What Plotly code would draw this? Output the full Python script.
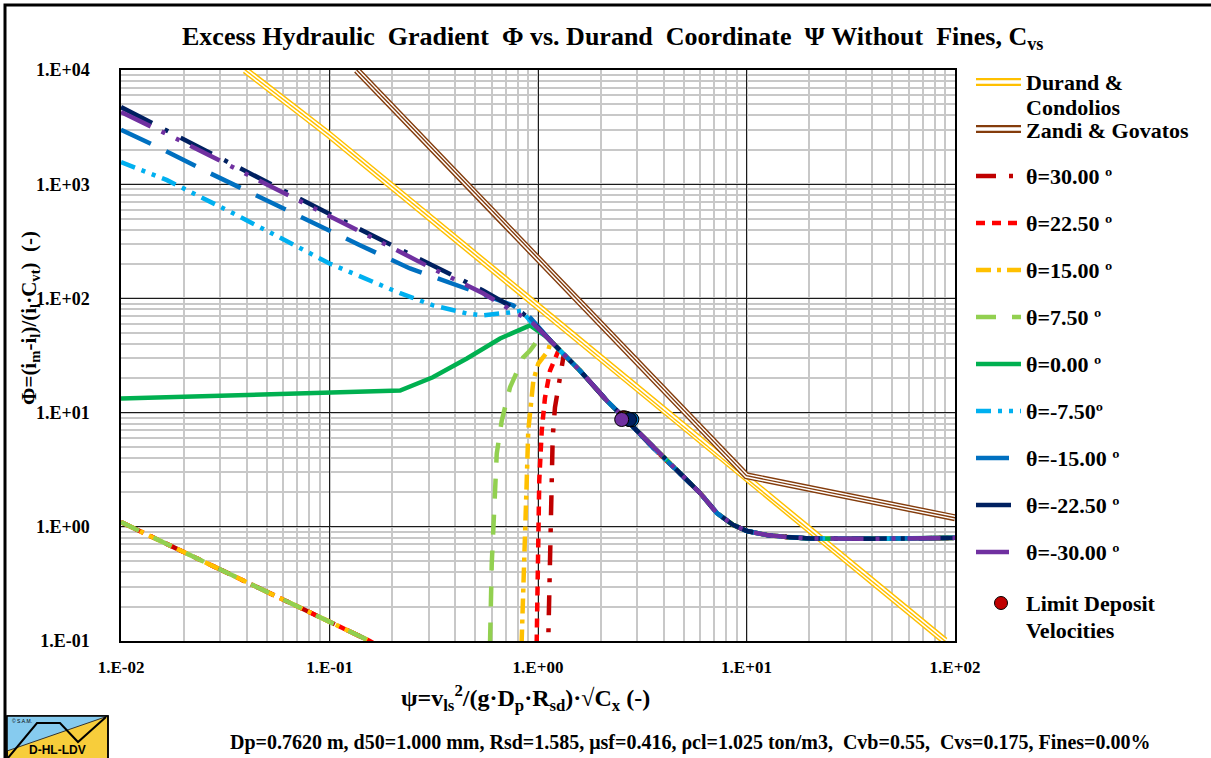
import plotly.graph_objects as go

# ---------------- DATA ----------------
# Durand & Condolios
DC_PSI = [0.0394, 0.1, 1.0, 10.0, 89.5]
DC_PHI = [10000, 2690, 85, 2.65, 0.1]
# Zandi & Govatos
ZG_PSI = [0.135, 0.455, 1.0, 10.0, 100.0]
ZG_PHI = [10000, 1000, 224, 2.8, 1.2]

# common (heterogeneous / homogeneous) branch shared by all angles
MAIN_PSI = [1.10, 1.18, 1.59, 2.14, 2.67, 3.56, 4.80, 5.98, 7.21, 8.61, 10.05, 12.5, 15.6, 20.2, 37.8, 65.7, 100.0]
MAIN_PHI = [46.0, 40.3, 23.3, 12.7, 8.5, 4.93, 2.92, 1.98, 1.32, 1.04, 0.918, 0.848, 0.814, 0.79, 0.785, 0.79, 0.80]

# lower-left branch shared by positive angles
LOW_PSI = [0.01, 0.156, 0.30]
LOW_PHI = [1.10, 0.10, 0.05]

T30_PSI = [1.10, 1.12, 1.133, 1.155, 1.176, 1.206, 1.275, 1.299, 1.33]
T30_PHI = [0.03, 0.10, 0.336, 2.54, 6.04, 11.1, 22.0, 24.8, 32.3]
T22_PSI = [0.985, 0.986, 0.992, 1.014, 1.042, 1.080, 1.142, 1.229, 1.26]
T22_PHI = [0.03, 0.10, 0.336, 2.54, 6.95, 13.5, 23.3, 31.6, 35.7]
T15_PSI = [0.83, 0.835, 0.849, 0.883, 0.898, 0.950, 1.003, 1.12, 1.15]
T15_PHI = [0.03, 0.10, 0.336, 2.54, 6.95, 19.1, 26.9, 35.0, 42.3]
T07_PSI = [0.585, 0.589, 0.600, 0.634, 0.670, 0.734, 0.848, 0.916, 1.05]
T07_PHI = [0.03, 0.10, 0.473, 4.37, 8.5, 16.6, 30.3, 35.0, 49.0]
T00_PSI = [0.01, 0.1, 0.218, 0.313, 0.456, 0.658, 0.916]
T00_PHI = [13.3, 14.8, 15.6, 20.4, 29.8, 44.6, 58.0]
TM07_PSI = [0.01, 0.01662, 0.0345, 0.0995, 0.218, 0.3136, 0.4566, 0.5447, 0.734, 0.834, 0.92]
TM07_PHI = [1560, 1085, 557, 203, 111, 86.9, 73.8, 71.0, 75.4, 78.0, 63.0]
TM15_PSI = [0.01, 0.01538, 0.02673, 0.04642, 0.0806, 0.140, 0.2432, 0.432, 0.759, 0.916]
TM15_PHI = [3000, 2070, 1248, 769, 464, 292, 183, 125, 86.9, 68.0]
TM22_PSI = [0.01, 0.01377, 0.02887, 0.0598, 0.1254, 0.263, 0.5447, 0.84, 0.916]
TM22_PHI = [4733, 3497, 1726, 885, 445, 229, 117.5, 74.5, 66.0]
TM30_PSI = [0.01, 0.01234, 0.01776, 0.03224, 0.056, 0.1161, 0.2107, 0.3034, 0.5447, 0.776, 0.916]
TM30_PHI = [4285, 3573, 2585, 1496, 904, 455, 264, 187, 111, 75.4, 64.0]

SERIES_NAMES = ["θ=30.00 º", "θ=22.50 º", "θ=15.00 º", "θ=7.50 º", "θ=0.00 º",
                "θ=-7.50º", "θ=-15.00 º", "θ=-22.50 º", "θ=-30.00 º"]

# limit deposit velocities (one per angle)
LDV_PSI = [2.55, 2.60, 2.65, 2.70, 2.75, 2.80, 2.82, 2.75, 2.52]
LDV_PHI = [9.0, 9.0, 8.9, 8.8, 8.7, 8.7, 8.7, 8.7, 8.7]

X_TICKS = [0.01, 0.1, 1, 10, 100]
X_TICKTEXT = ["1.E-02", "1.E-01", "1.E+00", "1.E+01", "1.E+02"]
Y_TICKS = [0.1, 1, 10, 100, 1000, 10000]
Y_TICKTEXT = ["1.E-01", "1.E+00", "1.E+01", "1.E+02", "1.E+03", "1.E+04"]

# ---------------- STYLES ----------------
COLORS = ["#C00000", "#FF0000", "#FFC000", "#92D050", "#00B050",
          "#00B0F0", "#0070C0", "#002060", "#7030A0"]
DASHES = ["20px,13px,4px,13px", "9px,7px", "15px,6px,4px,6px", "20px,16px", "solid",
          "15px,7px,4px,7px,4px,7px", "33px,17px", "35px,14px,4px,14px",
          "33px,12px,4px,12px,4px,12px"]
YELLOW = "#FFC000"
BROWN = "#843C0C"
FONT = "Liberation Serif"
W, H = 1211, 758


def build(psi, phi, low):
    xs, ys = [], []
    if low:
        xs += LOW_PSI
        ys += LOW_PHI
    xs += psi
    ys += phi
    last = psi[-1]
    for a, b in zip(MAIN_PSI, MAIN_PHI):
        if a > last:
            xs.append(a)
            ys.append(b)
    return xs, ys


branches = [(T30_PSI, T30_PHI, True), (T22_PSI, T22_PHI, True), (T15_PSI, T15_PHI, True),
            (T07_PSI, T07_PHI, True), (T00_PSI, T00_PHI, False), (TM07_PSI, TM07_PHI, False),
            (TM15_PSI, TM15_PHI, False), (TM22_PSI, TM22_PHI, False), (TM30_PSI, TM30_PHI, False)]

fig = go.Figure()


def compound(xs, ys, color, xa="x", ya="y", w_out=7.5, w_mid=4.6, w_in=1.5):
    fig.add_trace(go.Scatter(x=xs, y=ys, mode="lines", xaxis=xa, yaxis=ya,
                             line=dict(color=color, width=w_out), showlegend=False, hoverinfo="skip"))
    fig.add_trace(go.Scatter(x=xs, y=ys, mode="lines", xaxis=xa, yaxis=ya,
                             line=dict(color="white", width=w_mid), showlegend=False, hoverinfo="skip"))
    if w_in:
        fig.add_trace(go.Scatter(x=xs, y=ys, mode="lines", xaxis=xa, yaxis=ya,
                                 line=dict(color=color, width=w_in), showlegend=False, hoverinfo="skip"))


compound(DC_PSI, DC_PHI, YELLOW)
compound(ZG_PSI, ZG_PHI, BROWN, w_out=7, w_mid=4.2, w_in=1.4)

for (psi, phi, low), name, col, dash in zip(branches, SERIES_NAMES, COLORS, DASHES):
    xs, ys = build(psi, phi, low)
    fig.add_trace(go.Scatter(x=xs, y=ys, mode="lines", name=name,
                             line=dict(color=col, width=4.5, dash=dash), showlegend=False))

for i in range(len(LDV_PSI)):
    fig.add_trace(go.Scatter(x=[LDV_PSI[i]], y=[LDV_PHI[i]], mode="markers", showlegend=False,
                             marker=dict(size=14, color=COLORS[i], line=dict(color="black", width=1))))

# ---------------- custom legend (pixel overlay axes x2/y2) ----------------
LEG_X0, LEG_X1, LEG_TX = 976, 1021, 1028
LEG_Y0, LEG_DY = 82, 47
compound([LEG_X0, LEG_X1], [LEG_Y0, LEG_Y0], YELLOW, "x2", "y2", w_out=8, w_mid=3.5, w_in=0)
compound([LEG_X0, LEG_X1], [LEG_Y0 + LEG_DY, LEG_Y0 + LEG_DY], BROWN, "x2", "y2", w_out=8, w_mid=3.5, w_in=0)
for i, (col, dash) in enumerate(zip(COLORS, DASHES)):
    yy = LEG_Y0 + LEG_DY * (i + 2)
    fig.add_trace(go.Scatter(x=[LEG_X0, LEG_X1], y=[yy, yy], mode="lines", xaxis="x2", yaxis="y2",
                             line=dict(color=col, width=4.5, dash=dash), showlegend=False, hoverinfo="skip"))
LDV_LEG_Y = LEG_Y0 + LEG_DY * 11 + 4
fig.add_trace(go.Scatter(x=[1001], y=[LDV_LEG_Y], mode="markers", xaxis="x2", yaxis="y2", showlegend=False,
                         marker=dict(size=13, color="#C00000", line=dict(color="black", width=1))))

ann = []


def txt(x, y, s, size, xanchor="left", angle=0, family=FONT, yanchor="middle"):
    ann.append(dict(x=x, y=y, xref="x2", yref="y2", text=s, showarrow=False, xanchor=xanchor,
                    yanchor=yanchor, textangle=angle,
                    font=dict(family=family, size=size, color="black")))


txt(LEG_TX - 4, LEG_Y0, "<b>Durand &</b>", 22)
txt(LEG_TX - 4, LEG_Y0 + 25, "<b>Condolios</b>", 22)
txt(LEG_TX - 4, LEG_Y0 + LEG_DY + 1, "<b>Zandi & Govatos</b>", 22)
for i, name in enumerate(SERIES_NAMES):
    txt(LEG_TX - 4, LEG_Y0 + LEG_DY * (i + 2), "<b>" + name + "</b>", 22)
txt(LEG_TX - 4, LDV_LEG_Y, "<b>Limit Deposit</b>", 22)
txt(LEG_TX - 4, LDV_LEG_Y + 27, "<b>Velocities</b>", 22)

NB = "\u00a0"
txt(612, 38, "<b>Excess Hydraulic" + NB + " Gradient" + NB + " Φ vs. Durand" + NB + " Coordinate" + NB +
    " Ψ Without" + NB + " Fines, C<sub>vs</sub></b>", 26, xanchor="center")
txt(525, 698, "<b>ψ=v<sub>ls</sub><sup>2</sup>/(g·D<sub>p</sub>·R<sub>sd</sub>)·√C<sub>x</sub> (-)</b>", 24,
    xanchor="center")
txt(30, 318, "<b>Φ=(i<sub>m</sub>-i<sub>l</sub>)/(i<sub>l</sub>·C<sub>vt</sub>)" + NB + " (-)</b>", 21,
    xanchor="center", angle=-90)
txt(690, 742, "<b>Dp=0.7620 m, d50=1.000 mm, Rsd=1.585, μsf=0.416, ρcl=1.025 ton/m3," + NB + " Cvb=0.55," + NB +
    " Cvs=0.175, Fines=0.00%</b>", 20, xanchor="center")
# logo text
txt(57, 750, "<b>D-HL-LDV</b>", 12, xanchor="center", family="Liberation Sans")
txt(10, 721, "© S.A.M.", 5, family="Liberation Sans")

shapes = [
    # outer frame
    dict(type="rect", xref="x2", yref="y2", x0=5, y0=5, x1=1230, y1=780, line=dict(color="black", width=3)),
    # logo
    dict(type="rect", xref="x2", yref="y2", x0=7, y0=716, x1=108, y1=780, fillcolor="#F7CD3B",
         line=dict(color="black", width=1.5), layer="below"),
    dict(type="path", xref="x2", yref="y2", path="M 7 716 L 108 716 L 7 751 Z", fillcolor="#86CBEF",
         line=dict(color="rgba(0,0,0,0)", width=0)),
    dict(type="path", xref="x2", yref="y2", path="M 7 751 L 108 716", line=dict(color="#333", width=1)),
    dict(type="path", xref="x2", yref="y2", path="M 8 758 L 37 723 L 60 723 L 78 742 L 106 717",
         line=dict(color="black", width=2)),
    dict(type="rect", xref="x2", yref="y2", x0=7, y0=716, x1=108, y1=780, line=dict(color="black", width=1.5)),
]

fig.update_layout(
    width=W, height=H,
    margin=dict(l=0, r=0, t=0, b=0, pad=0, autoexpand=False),
    paper_bgcolor="white", plot_bgcolor="rgba(0,0,0,0)",
    showlegend=False,
    xaxis=dict(type="log", range=[-2, 2], domain=[121 / W, 955 / W], anchor="y", automargin=False,
               tickmode="array", tickvals=X_TICKS, ticktext=["<b>%s</b>" % t for t in X_TICKTEXT],
               tickfont=dict(family=FONT, size=17, color="black"),
               ticks="outside", ticklen=10, tickcolor="rgba(0,0,0,0)",
               showgrid=True, gridcolor="#1a1a1a", gridwidth=1.2,
               minor=dict(dtick="D1", showgrid=True, gridcolor="#C8C8C8", gridwidth=1.5, ticks=""),
               showline=True, linecolor="black", linewidth=1.5, mirror=True, zeroline=False),
    yaxis=dict(type="log", range=[-1, 4], domain=[1 - 641 / H, 1 - 70 / H], anchor="x", automargin=False,
               tickmode="array", tickvals=Y_TICKS, ticktext=["<b>%s</b>" % t for t in Y_TICKTEXT],
               tickfont=dict(family=FONT, size=18, color="black"),
               ticks="outside", ticklen=26, tickcolor="rgba(0,0,0,0)",
               showgrid=True, gridcolor="#1a1a1a", gridwidth=1.2,
               minor=dict(dtick="D1", showgrid=True, gridcolor="#C8C8C8", gridwidth=1.5, ticks=""),
               showline=True, linecolor="black", linewidth=1.5, mirror=True, zeroline=False),
    xaxis2=dict(domain=[0, 1], range=[0, W], anchor="y2", visible=False, fixedrange=True, automargin=False),
    yaxis2=dict(domain=[0, 1], range=[H, 0], anchor="x2", visible=False, fixedrange=True, automargin=False),
    annotations=ann,
    shapes=shapes,
)

fig.write_html("out.html", config={"displayModeBar": False},
               post_script="document.body.style.margin='0px';document.body.style.overflow='hidden';")
